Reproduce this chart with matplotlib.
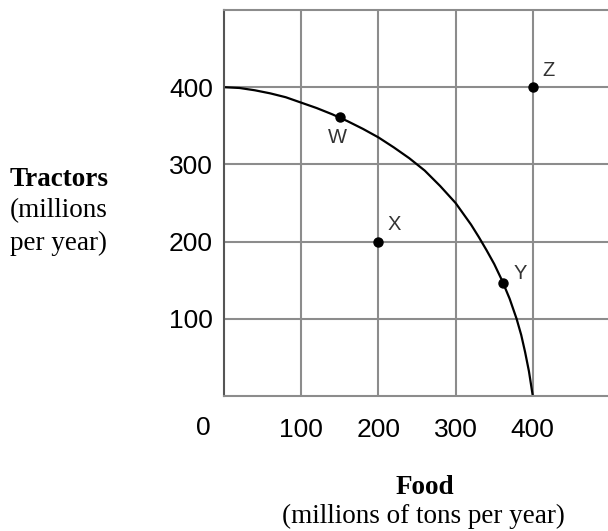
import matplotlib
matplotlib.use("Agg")
import matplotlib.pyplot as plt

# production possibilities frontier
ppf_food = [0, 20, 40, 60, 80, 100, 120, 140, 160, 180, 200, 220, 240, 260, 280,
            300, 310, 320, 330, 340, 350, 360, 370, 379, 385, 390, 395, 400]
ppf_tractors = [400, 399, 396, 392, 387, 380, 373, 365, 356, 346, 335, 322, 308, 292, 272,
                250, 236, 222, 206, 189, 171, 150, 126, 100, 79, 57, 32, 0]

point_names = ["W", "X", "Y", "Z"]
point_food = [150, 200, 362, 400]
point_tractors = [361, 200, 146, 400]
# label offsets in pixels from each dot
label_offsets = [(-2, -20), (16, 17), (17, 10), (16, 17)]

ticks = [100, 200, 300, 400]
grid_color = "#8c8c8c"

fig = plt.figure(figsize=(6.08, 5.31), dpi=100)
ax = fig.add_axes([224 / 608, 135 / 531, 386 / 608, 386 / 531])

ax.set_xlim(0, 500)
ax.set_ylim(0, 500)
ax.set_xticks(ticks)
ax.set_yticks(ticks)
ax.set_xticklabels([str(t) for t in ticks], fontfamily="Liberation Sans", fontsize=19)
ax.set_yticklabels([str(t) for t in ticks], fontfamily="Liberation Sans", fontsize=19)
ax.tick_params(length=0)
ax.tick_params(axis="x", pad=16)
ax.tick_params(axis="y", pad=8)
ax.grid(True, color=grid_color, linewidth=1.5)
ax.set_axisbelow(True)
for spine in ax.spines.values():
    spine.set_color(grid_color)
    spine.set_linewidth(1.5)
ax.spines["left"].set_color("#555555")

ax.plot(ppf_food, ppf_tractors, color="black", linewidth=1.6,
        solid_capstyle="round", solid_joinstyle="round")
ax.plot(point_food, point_tractors, "o", color="black", markersize=6.5, linestyle="none")

for name, fx, ty, off in zip(point_names, point_food, point_tractors, label_offsets):
    ax.annotate(name, xy=(fx, ty), xytext=off, textcoords="offset pixels",
                ha="center", va="center", fontfamily="Liberation Sans",
                fontsize=14.5, color="#333333")

# origin label sits left of the corner
ax.annotate("0", xy=(0, 0), xytext=(-21, -32), textcoords="offset pixels",
            ha="center", va="center", fontfamily="Liberation Sans", fontsize=19,
            annotation_clip=False)

fig.text(10 / 608, 1 - 180 / 531, "Tractors", fontfamily="Liberation Serif",
         fontweight="bold", fontsize=19.5, ha="left", va="center")
fig.text(10 / 608, 1 - 211 / 531, "(millions", fontfamily="Liberation Serif",
         fontsize=19.5, ha="left", va="center")
fig.text(10 / 608, 1 - 243 / 531, "per year)", fontfamily="Liberation Serif",
         fontsize=19.5, ha="left", va="center")

fig.text(425 / 608, 1 - 488 / 531, "Food", fontfamily="Liberation Serif",
         fontweight="bold", fontsize=19.5, ha="center", va="center")
fig.text(423 / 608, 1 - 516 / 531, "(millions of tons per year)",
         fontfamily="Liberation Serif", fontsize=19.5, ha="center", va="center")

fig.savefig("out.png", dpi=100)
